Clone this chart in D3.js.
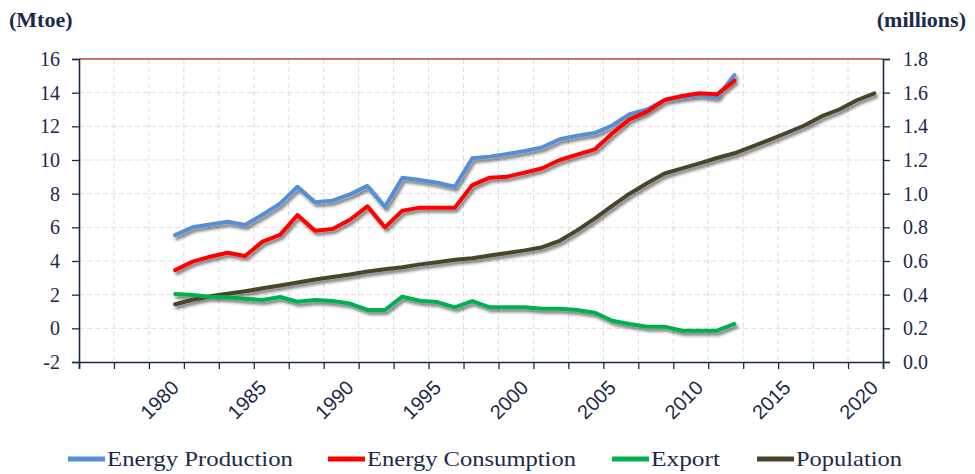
<!DOCTYPE html>
<html>
<head>
<meta charset="utf-8">
<script src="https://cdn.jsdelivr.net/npm/d3@7/dist/d3.min.js"></script>
<style>
body { margin: 0; background: #fff; }
</style>
</head>
<body>
<div id="chart"></div>
<script>
// data
var years = [1980,1981,1982,1983,1984,1985,1986,1987,1988,1989,1990,1991,1992,1993,1994,1995,1996,
             1997,1998,1999,2000,2001,2002,2003,2004,2005,2006,2007,2008,2009,2010,2011,2012];
var production = [5.54,6.0,6.17,6.33,6.14,6.75,7.4,8.41,7.49,7.58,7.96,8.46,7.22,8.95,8.81,8.65,8.41,
                  10.1,10.2,10.36,10.53,10.75,11.23,11.44,11.6,12.05,12.72,13.0,13.56,13.72,13.86,13.72,15.05];
var consumption = [3.46,3.96,4.25,4.49,4.30,5.15,5.55,6.73,5.80,5.9,6.45,7.25,6.0,6.99,7.17,7.17,7.17,
                   8.51,8.95,9.01,9.25,9.51,10.0,10.32,10.63,11.57,12.42,12.87,13.56,13.8,13.96,13.9,14.71];
var exportVals = [2.04,1.98,1.88,1.84,1.76,1.68,1.86,1.58,1.68,1.62,1.47,1.09,1.09,1.88,1.64,1.56,1.25,
                  1.62,1.25,1.25,1.25,1.17,1.17,1.09,0.93,0.45,0.26,0.1,0.1,-0.14,-0.14,-0.14,0.26];
var popYears = d3.range(1980, 2021);
var population = [0.343,0.37,0.39,0.405,0.42,0.438,0.455,0.472,0.49,0.505,0.52,0.538,0.551,0.563,0.58,
                  0.593,0.608,0.616,0.633,0.648,0.663,0.682,0.72,0.782,0.852,0.927,1.0,1.062,1.12,1.15,
                  1.18,1.212,1.24,1.28,1.32,1.362,1.405,1.46,1.5,1.555,1.596];
var leftTicks = [-2,0,2,4,6,8,10,12,14,16];
var rightTicks = [0,0.2,0.4,0.6,0.8,1.0,1.2,1.4,1.6,1.8];
var labelYears = [1980,1985,1990,1995,2000,2005,2010,2015,2020];
var seriesNames = ["Energy Production","Energy Consumption","Export","Population"];
var seriesColors = ["#558ed5","#ff0000","#00b050","#4a452a"];

var width = 975, height = 474;
var navy = "#1c2a4a";
var svg = d3.select("#chart").append("svg").attr("width", width).attr("height", height);

var x = d3.scaleLinear().domain([1974.5, 2020.5]).range([79, 883]);
var yL = d3.scaleLinear().domain([-2, 16]).range([362, 59]);
var yR = d3.scaleLinear().domain([0, 1.8]).range([362, 59]);

var defs = svg.append("defs");
var f = defs.append("filter").attr("id", "shadow")
    .attr("x", "-5%").attr("y", "-20%").attr("width", "115%").attr("height", "150%");
f.append("feDropShadow").attr("dx", 2).attr("dy", 3).attr("stdDeviation", 1.6)
    .attr("flood-color", "#000").attr("flood-opacity", 0.5);

// grid
var xTicks = d3.range(1974.5, 2021, 2);
svg.append("g").selectAll("line").data(xTicks.slice(1, -1)).enter().append("line")
    .attr("x1", function(d) { return x(d); }).attr("x2", function(d) { return x(d); })
    .attr("y1", yL(16)).attr("y2", yL(-2))
    .attr("stroke", "#dcdce6").attr("stroke-width", 1).attr("stroke-dasharray", "5,3");
svg.append("g").selectAll("line").data(leftTicks.slice(1, -1)).enter().append("line")
    .attr("x1", x.range()[0]).attr("x2", x.range()[1])
    .attr("y1", function(d) { return yL(d); }).attr("y2", function(d) { return yL(d); })
    .attr("stroke", "#dcdce6").attr("stroke-width", 1).attr("stroke-dasharray", "5,3");

// top border
svg.append("line").attr("x1", 79).attr("x2", 883).attr("y1", yL(16)).attr("y2", yL(16))
    .attr("stroke", "#b8403c").attr("stroke-width", 1.5);

// axes
var axL = svg.append("g").attr("transform", "translate(79,0)")
    .call(d3.axisLeft(yL).tickValues(leftTicks).tickSize(7).tickPadding(12)
      .tickFormat(function(d) { return String(d); }));
var axR = svg.append("g").attr("transform", "translate(883,0)")
    .call(d3.axisRight(yR).tickValues(rightTicks).tickSize(7).tickPadding(13).tickFormat(d3.format(".1f")));
var axB = svg.append("g").attr("transform", "translate(0," + yL(-2) + ")")
    .call(d3.axisBottom(x).tickValues(xTicks).tickSize(7).tickFormat(""));
[axL, axR, axB].forEach(function(a) {
  a.select(".domain").attr("stroke", navy).attr("stroke-width", 1.6);
  a.selectAll(".tick line").attr("stroke", navy).attr("stroke-width", 1.3);
  a.selectAll("text").attr("fill", navy).style("font-family", "'Liberation Serif', serif").style("font-size", "20px");
});

// rotated year labels
svg.append("g").selectAll("text").data(labelYears).enter().append("text")
    .attr("transform", function(d) { return "translate(" + (x(d) + 5) + ",389) rotate(-45)"; })
    .attr("text-anchor", "end")
    .attr("fill", navy)
    .style("font-family", "'Liberation Sans', Arial, sans-serif")
    .style("font-size", "20px")
    .text(function(d) { return d; });

// axis titles
svg.append("text").attr("x", 9).attr("y", 27).attr("fill", navy)
    .style("font-family", "'Liberation Serif', serif").style("font-size", "22px").style("font-weight", "bold")
    .text("(Mtoe)");
svg.append("text").attr("x", 966).attr("y", 27).attr("text-anchor", "end").attr("fill", navy)
    .style("font-family", "'Liberation Serif', serif").style("font-size", "22px").style("font-weight", "bold")
    .text("(millions)");

// lines
var lineL = d3.line().x(function(d) { return x(d[0]); }).y(function(d) { return yL(d[1]); });
var lineR = d3.line().x(function(d) { return x(d[0]); }).y(function(d) { return yR(d[1]); });

var plot = svg.append("g").attr("filter", "url(#shadow)");
function addLine(path, color) {
  plot.append("path").attr("d", path).attr("fill", "none").attr("stroke", color)
      .attr("stroke-width", 4).attr("stroke-linejoin", "round").attr("stroke-linecap", "round");
}
addLine(lineR(d3.zip(popYears, population)), seriesColors[3]);
addLine(lineL(d3.zip(years, exportVals)), seriesColors[2]);
addLine(lineL(d3.zip(years, production)), seriesColors[0]);
addLine(lineL(d3.zip(years, consumption)), seriesColors[1]);

// legend
var legX = [68, 328, 612, 757];
var legW = [186, 209, 69, 106];
var leg = svg.append("g").selectAll("g").data(seriesNames).enter().append("g")
    .attr("transform", function(d, i) { return "translate(" + legX[i] + ",459)"; });
leg.append("line").attr("x1", 0).attr("x2", 37).attr("y1", 0).attr("y2", 0)
    .attr("stroke", function(d, i) { return seriesColors[i]; }).attr("stroke-width", 5);
leg.append("text").attr("x", 39).attr("y", 7).attr("fill", navy)
    .style("font-family", "'Liberation Serif', serif").style("font-size", "22px")
    .attr("textLength", function(d, i) { return legW[i]; }).attr("lengthAdjust", "spacingAndGlyphs")
    .text(function(d) { return d; });
</script>
</body>
</html>
